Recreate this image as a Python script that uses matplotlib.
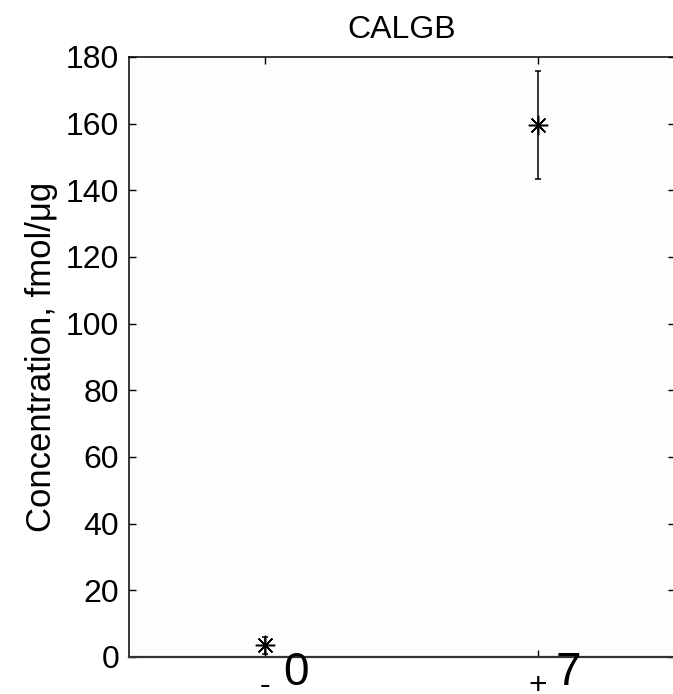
import matplotlib
matplotlib.use("Agg")
import matplotlib.pyplot as plt

plt.rcParams['font.family'] = ['Liberation Sans', 'DejaVu Sans']

# Groups and measured concentrations (mean ± error)
positions = [1, 2]
group_labels = ['-', '+']
counts = ['0', '7']
means = [3.5, 159.6]
errors = [2.6, 16.3]
yticks = [0, 20, 40, 60, 80, 100, 120, 140, 160, 180]

fig = plt.figure(figsize=(6.73, 6.94), dpi=100)
ax = fig.add_axes([129 / 673, 37 / 694, 545.5 / 673, 600 / 694])
ax.set_facecolor('#fdfdfd')

asterisk = (8, 2, 0)
ax.errorbar(positions, means, yerr=errors, fmt='none', ecolor='black',
            elinewidth=1.1, capsize=2.5, capthick=1.1)
ax.plot(positions, means, linestyle='none', marker=asterisk,
        markersize=14, markeredgewidth=1.1, color='black')

for x, c in zip(positions, counts):
    ax.text(x + 0.065, -8.4, c, fontsize=33, ha='left', va='baseline')

ax.set_xlim(0.5, 2.5)
ax.set_ylim(0, 180)
ax.set_xticks(positions)
ax.set_xticklabels(group_labels)
ax.set_yticks(yticks)

ax.tick_params(axis='both', direction='in', length=5, width=1,
               top=True, right=True, labelsize=23)
ax.tick_params(axis='x', pad=10)
ax.tick_params(axis='y', pad=7)

for side in ['left', 'top']:
    ax.spines[side].set_linewidth(1.1)
ax.spines['right'].set_visible(False)
ax.spines['bottom'].set_linewidth(1.6)
ax.spines['bottom'].set_color('#333333')

ax.set_title('CALGB', fontsize=23, pad=14)
ax.set_ylabel('Concentration, fmol/\u03bcg', fontsize=25, labelpad=6)

fig.savefig('out.png', dpi=100, facecolor='white')
